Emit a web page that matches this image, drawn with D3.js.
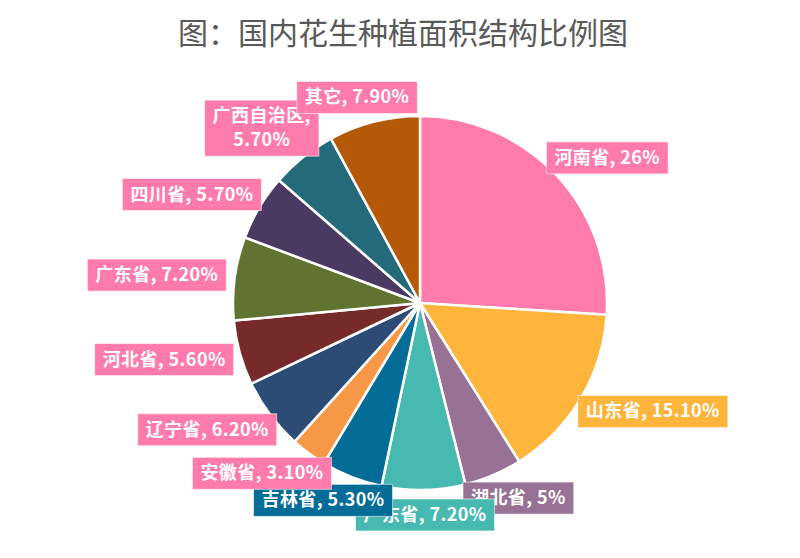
<!DOCTYPE html>
<html>
<head>
  <meta charset="utf-8">
  <title>国内花生种植面积结构比例图</title>
  <style>
    body { margin: 0; background: #fff; }
    text { font-family: "Noto Sans CJK SC", "Microsoft YaHei", sans-serif; }
  </style>
</head>
<body>
  <script src="https://cdn.jsdelivr.net/npm/d3@7/dist/d3.min.js"></script>
  <script>
    // data
    var provinces = ["河南省", "山东省", "湖北省", "广东省", "吉林省", "安徽省",
                     "辽宁省", "河北省", "广东省", "四川省", "广西自治区", "其它"];
    var shares = [26, 15.1, 5, 7.2, 5.3, 3.1, 6.2, 5.6, 7.2, 5.7, 5.7, 7.9];
    var shareLabels = ["26%", "15.10%", "5%", "7.20%", "5.30%", "3.10%",
                       "6.20%", "5.60%", "7.20%", "5.70%", "5.70%", "7.90%"];
    var sliceColors = ["#FF7BAC", "#FFB53B", "#977294", "#47B9B1", "#046D97", "#F69845",
                       "#2D4C75", "#772A2A", "#607330", "#4A3A61", "#256A7A", "#B55808"];
    var labelColors = ["#FF7BAC", "#FFB53B", "#977294", "#47B9B1", "#046D97", "#FF7BAC",
                       "#FF7BAC", "#FF7BAC", "#FF7BAC", "#FF7BAC", "#FF7BAC", "#FF7BAC"];

    var w = 800, h = 558;
    var cx = 420, cy = 303, radius = 187;

    var svg = d3.select("body").append("svg")
        .attr("width", w)
        .attr("height", h);

    svg.append("text")
        .attr("x", 403)
        .attr("y", 44)
        .attr("text-anchor", "middle")
        .style("font-size", "30px")
        .style("fill", "#595959")
        .text("图：国内花生种植面积结构比例图");

    var rows = provinces.map(function(p, i) {
      return { name: p, value: shares[i], label: shareLabels[i], i: i };
    });

    var pie = d3.pie().sort(null).value(function(d) { return d.value; });
    var arc = d3.arc().innerRadius(0).outerRadius(radius);
    var arcs = pie(rows);

    var g = svg.append("g").attr("transform", "translate(" + cx + "," + cy + ")");

    g.selectAll("path")
        .data(arcs)
        .enter()
        .append("path")
        .attr("d", arc)
        .attr("fill", function(d) { return sliceColors[d.data.i]; })
        .attr("stroke", "#fff")
        .attr("stroke-width", 2.5)
        .attr("stroke-linejoin", "round");

    // labels: box placed outside the pie along the mid angle
    var labelR = 196;
    var padX = 8, padY = 5, lineH = 24;
    var lg = g.append("g");

    arcs.forEach(function(d) {
      var a = (d.startAngle + d.endAngle) / 2;
      var s = Math.sin(a), c = Math.cos(a);
      var ax = labelR * s, ay = -labelR * c;
      var lines = d.data.name.length > 4
          ? [d.data.name + ",", d.data.label]
          : [d.data.name + ", " + d.data.label];

      var box = lg.append("g");
      var rect = box.append("rect")
          .attr("fill", labelColors[d.data.i])
          .attr("stroke", "rgba(255,255,255,0.55)")
          .attr("stroke-width", 1);
      var txt = box.append("text")
          .attr("text-anchor", "middle")
          .style("font-size", "18px")
          .style("font-weight", "bold")
          .style("letter-spacing", "0.4px")
          .style("fill", "#fff");
      lines.forEach(function(t, k) {
        txt.append("tspan")
            .attr("x", 0)
            .attr("y", k * lineH)
            .text(t);
      });

      var bb = txt.node().getBBox();
      var bw = bb.width + padX * 2, bh = lines.length * lineH + padY * 2 - 2;
      var left = ax - (1 - s) / 2 * bw;
      var top = ay - (1 + c) / 2 * bh;
      rect.attr("x", left).attr("y", top).attr("width", bw).attr("height", bh);
      txt.attr("transform", "translate(" + (left + bw / 2) + "," + (top + padY + 17) + ")");
    });
  </script>
</body>
</html>
